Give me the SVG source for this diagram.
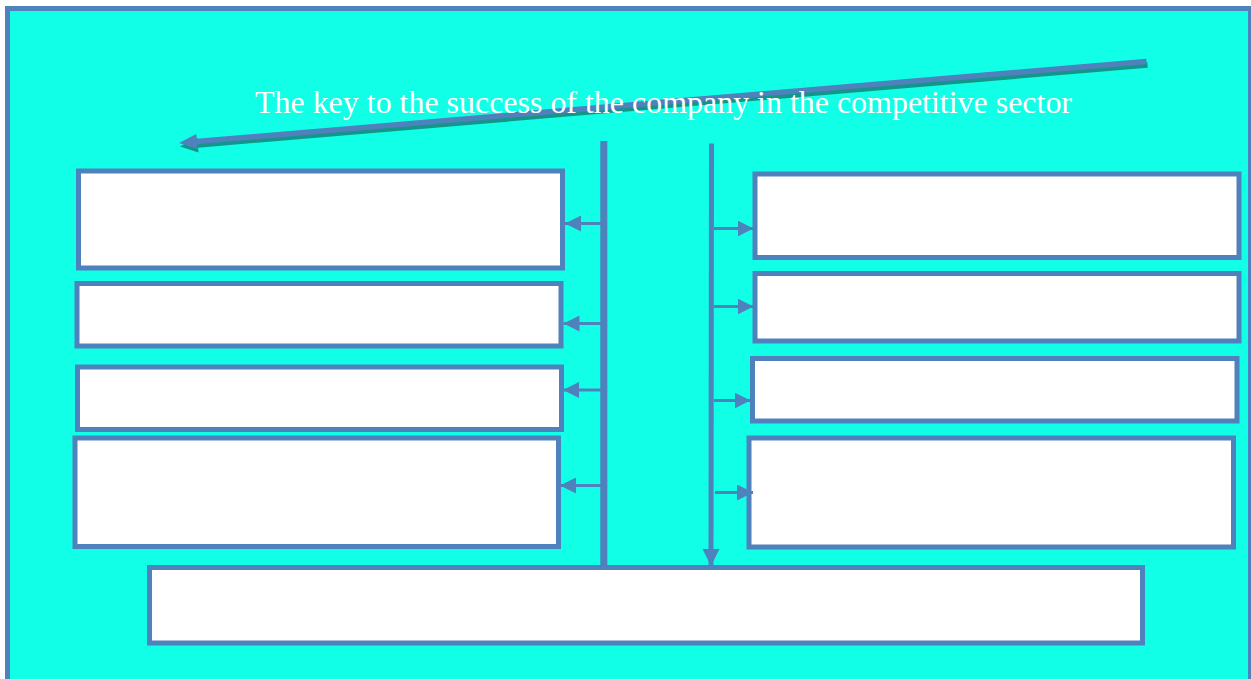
<svg xmlns="http://www.w3.org/2000/svg" width="1251" height="679" viewBox="0 0 1251 679">
<defs>
<style>
.box{fill:#ffffff;stroke:#4f81bd;stroke-width:5}
.con{stroke:#4f81bd;fill:none}
.title{font-family:"Liberation Serif","Times New Roman",serif;font-size:32px;fill:#ffffff}
</style>
<marker id="ah" markerUnits="userSpaceOnUse" markerWidth="16" markerHeight="16" viewBox="0 0 15 15" refX="15" refY="7.5" orient="auto">
<path d="M0,0 L15,7.5 L0,15 Z" fill="#4f81bd"/>
</marker>
<marker id="ahv" markerUnits="userSpaceOnUse" markerWidth="17" markerHeight="17" viewBox="0 0 17 17" refX="17" refY="8.5" orient="auto">
<path d="M0,0 L17,8.5 L0,17 Z" fill="#4f81bd"/>
</marker>
</defs>
<rect x="0" y="0" width="1251" height="679" fill="#ffffff"/>
<rect id="frame" x="7.5" y="8.5" width="1243" height="680" fill="#10ffe6" stroke="#4f81bd" stroke-width="5"/>
<g id="title-arrow">
<polygon points="1146.3,58.8 196.7,138.8 196.3,134 179,143 197.5,149 197.1,144.2 1146.7,64.2" fill="#12968a" transform="translate(1,3.5)"/>
<polygon points="1146.3,58.8 196.7,138.8 196.3,134 179,143 197.5,149 197.1,144.2 1146.7,64.2" fill="#4f81bd"/>
</g>
<text id="title" class="title" x="663.5" y="113" text-anchor="middle" textLength="817" lengthAdjust="spacingAndGlyphs">The key to the success of the company in the competitive sector</text>
<g id="left-1"><rect class="box" x="78.5" y="171" width="484" height="97"/></g>
<g id="left-2"><rect class="box" x="77" y="283.5" width="484" height="62.5"/></g>
<g id="left-3"><rect class="box" x="77.5" y="367" width="484" height="62.5"/></g>
<g id="left-4"><rect class="box" x="75" y="438" width="483.5" height="108.5"/></g>
<g id="right-1"><rect class="box" x="755" y="174" width="484" height="83.5"/></g>
<g id="right-2"><rect class="box" x="755" y="273.5" width="484" height="67.5"/></g>
<g id="right-3"><rect class="box" x="752.5" y="358.5" width="484.5" height="62.5"/></g>
<g id="right-4"><rect class="box" x="749" y="438" width="484.5" height="109"/></g>
<g id="bottom"><rect class="box" x="149.5" y="567.5" width="993" height="75.5"/></g>
<g id="connectors">
<line class="con" x1="603.8" y1="141" x2="603.8" y2="567" stroke-width="7"/>
<line class="con" x1="711.5" y1="143.5" x2="711" y2="566" stroke-width="5" marker-end="url(#ahv)"/>
<line class="con" x1="601" y1="223.5" x2="565" y2="223.5" stroke-width="3" marker-end="url(#ah)"/>
<line class="con" x1="601" y1="323.5" x2="563.5" y2="323.5" stroke-width="3" marker-end="url(#ah)"/>
<line class="con" x1="601" y1="390" x2="563" y2="390" stroke-width="3" marker-end="url(#ah)"/>
<line class="con" x1="601" y1="485.5" x2="560" y2="485.5" stroke-width="3" marker-end="url(#ah)"/>
<line class="con" x1="714" y1="228.5" x2="753.5" y2="228.5" stroke-width="3" marker-end="url(#ah)"/>
<line class="con" x1="714" y1="306.5" x2="753.5" y2="306.5" stroke-width="3" marker-end="url(#ah)"/>
<line class="con" x1="714" y1="400.5" x2="750.5" y2="400.5" stroke-width="3" marker-end="url(#ah)"/>
<line class="con" x1="715" y1="492.5" x2="753" y2="492.5" stroke-width="3" marker-end="url(#ah)"/>
</g>
</svg>
